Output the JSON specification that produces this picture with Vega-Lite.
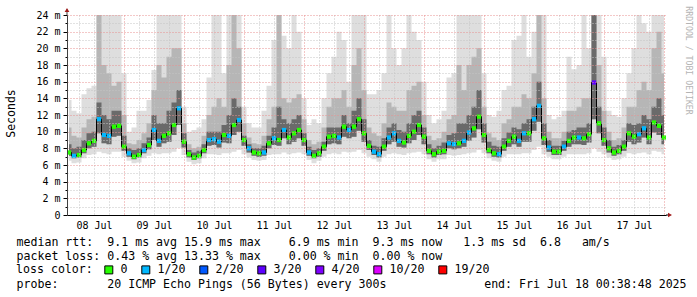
{
"$schema":"https://vega.github.io/schema/vega-lite/v6.json",
"width":599,"height":200,
"autosize":{"type":"none"},
"padding":{"left":67,"top":15,"right":31,"bottom":82},
"background":"white",
"config":{"view":{"stroke":null},"axis":{"labelFont":"DejaVu Sans Mono","titleFont":"DejaVu Sans Mono","labelColor":"#000","titleColor":"#000","titleFontWeight":"normal","domainColor":"#000","tickColor":"#000"}},
"data":{"values":[
{"h":2,"m":7.5,"c":"0","b":6.5,"bd":7.1,"d":8.5,"g":10.5,"l":13.8},
{"h":4,"m":7.1,"c":"1/20","b":6.2,"bd":6.8,"d":8.0,"g":9.5,"l":12.5},
{"h":6,"m":7.2,"c":"0","b":6.3,"bd":6.9,"d":8.2,"g":9.3,"l":12.2},
{"h":8,"m":7.8,"c":"0","b":6.8,"bd":7.4,"d":9.0,"g":10.5,"l":14.5},
{"h":10,"m":8.6,"c":"0","b":7.2,"bd":8.0,"d":9.8,"g":11.5,"l":15.2},
{"h":12,"m":8.9,"c":"0","b":7.3,"bd":8.2,"d":10.0,"g":11.8,"l":15.5},
{"h":14,"m":11.5,"c":"1/20","b":7.6,"bd":9.8,"d":13.5,"g":24,"l":24},
{"h":16,"m":9.6,"c":"1/20","b":7.4,"bd":8.6,"d":12,"g":18,"l":24},
{"h":18,"m":9.5,"c":"1/20","b":7.3,"bd":8.5,"d":11.5,"g":17,"l":24},
{"h":20,"m":10.6,"c":"0","b":7.6,"bd":9.4,"d":12.5,"g":15.5,"l":24},
{"h":22,"m":10.7,"c":"0","b":7.6,"bd":9.5,"d":12.5,"g":16,"l":24},
{"h":24,"m":8.2,"c":"0","b":7.0,"bd":7.7,"d":9.5,"g":12,"l":17},
{"h":26,"m":7.4,"c":"1/20","b":6.5,"bd":7.0,"d":8.0,"g":8.6,"l":10.0},
{"h":28,"m":7.0,"c":"0","b":6.2,"bd":6.7,"d":7.8,"g":8.5,"l":10.5},
{"h":30,"m":7.2,"c":"0","b":6.3,"bd":6.9,"d":8.0,"g":9.0,"l":12.5},
{"h":32,"m":7.8,"c":"1/20","b":6.8,"bd":7.4,"d":8.6,"g":9.8,"l":12.5},
{"h":34,"m":8.4,"c":"0","b":7.1,"bd":7.9,"d":9.3,"g":11,"l":13.8},
{"h":36,"m":10.2,"c":"1/20","b":7.4,"bd":9.0,"d":12,"g":15,"l":17.4},
{"h":38,"m":8.9,"c":"1/20","b":7.3,"bd":8.2,"d":11,"g":18,"l":24},
{"h":40,"m":9.5,"c":"0","b":7.4,"bd":8.6,"d":11,"g":16.5,"l":24},
{"h":42,"m":9.8,"c":"0","b":7.4,"bd":8.8,"d":12.5,"g":19,"l":24},
{"h":44,"m":10.8,"c":"0","b":7.6,"bd":9.6,"d":13.5,"g":20,"l":24},
{"h":46,"m":12.8,"c":"1/20","b":8.0,"bd":10.8,"d":15,"g":20,"l":24},
{"h":48,"m":8.8,"c":"0","b":7.2,"bd":8.1,"d":9.8,"g":11,"l":13},
{"h":50,"m":7.3,"c":"0","b":6.4,"bd":6.9,"d":7.8,"g":8.5,"l":10.0},
{"h":52,"m":6.9,"c":"0","b":6.1,"bd":6.6,"d":7.5,"g":8.0,"l":10.2},
{"h":54,"m":7.1,"c":"0","b":6.2,"bd":6.8,"d":7.7,"g":8.2,"l":10.5},
{"h":56,"m":7.8,"c":"0","b":6.8,"bd":7.4,"d":8.5,"g":9.5,"l":11.5},
{"h":58,"m":9.0,"c":"1/20","b":7.3,"bd":8.3,"d":10,"g":12,"l":16.5},
{"h":60,"m":9.1,"c":"1/20","b":7.3,"bd":8.4,"d":10,"g":13,"l":24},
{"h":62,"m":8.8,"c":"1/20","b":7.2,"bd":8.1,"d":10,"g":14,"l":24},
{"h":64,"m":9.6,"c":"0","b":7.4,"bd":8.7,"d":10.8,"g":13,"l":17},
{"h":66,"m":9.5,"c":"1/20","b":7.4,"bd":8.6,"d":12,"g":18,"l":24},
{"h":68,"m":10.8,"c":"0","b":7.6,"bd":9.6,"d":14,"g":24,"l":24},
{"h":70,"m":11.4,"c":"1/20","b":7.8,"bd":10.0,"d":13,"g":20,"l":24},
{"h":72,"m":9.0,"c":"0","b":7.3,"bd":8.3,"d":9.5,"g":11,"l":13},
{"h":74,"m":8.0,"c":"1/20","b":6.9,"bd":7.5,"d":8.5,"g":9.3,"l":11},
{"h":76,"m":7.5,"c":"0","b":6.6,"bd":7.1,"d":8.0,"g":8.6,"l":10.5},
{"h":78,"m":7.4,"c":"0","b":6.5,"bd":7.0,"d":8.0,"g":8.5,"l":10.5},
{"h":80,"m":7.5,"c":"1/20","b":6.6,"bd":7.1,"d":8.3,"g":9.5,"l":12.5},
{"h":82,"m":8.6,"c":"0","b":7.2,"bd":8.0,"d":9.5,"g":11.5,"l":15.5},
{"h":84,"m":9.2,"c":"1/20","b":7.3,"bd":8.4,"d":10.5,"g":13,"l":21},
{"h":86,"m":9.0,"c":"0","b":7.3,"bd":8.3,"d":13,"g":24,"l":24},
{"h":88,"m":10.2,"c":"1/20","b":7.5,"bd":9.2,"d":11.5,"g":14,"l":21.5},
{"h":90,"m":9.3,"c":"0","b":7.3,"bd":8.5,"d":11,"g":13.5,"l":20},
{"h":92,"m":9.8,"c":"0","b":7.4,"bd":8.8,"d":11.5,"g":14,"l":24},
{"h":94,"m":10.2,"c":"0","b":7.5,"bd":9.2,"d":12,"g":14.5,"l":22},
{"h":96,"m":9.0,"c":"0","b":7.3,"bd":8.3,"d":9.8,"g":11.5,"l":14},
{"h":98,"m":7.5,"c":"1/20","b":6.6,"bd":7.1,"d":8.2,"g":9.0,"l":10.8},
{"h":100,"m":7.1,"c":"0","b":6.2,"bd":6.8,"d":7.8,"g":8.5,"l":11.5},
{"h":102,"m":7.4,"c":"0","b":6.5,"bd":7.0,"d":8.0,"g":8.8,"l":11.0},
{"h":104,"m":8.2,"c":"0","b":7.0,"bd":7.7,"d":8.8,"g":10.5,"l":14},
{"h":106,"m":9.4,"c":"0","b":7.3,"bd":8.5,"d":10.5,"g":13,"l":17},
{"h":108,"m":9.5,"c":"0","b":7.4,"bd":8.6,"d":10.5,"g":14,"l":19},
{"h":110,"m":9.3,"c":"1/20","b":7.3,"bd":8.5,"d":10.5,"g":14,"l":22},
{"h":112,"m":10.6,"c":"0","b":7.6,"bd":9.4,"d":12,"g":15,"l":21},
{"h":114,"m":10.2,"c":"1/20","b":7.5,"bd":9.2,"d":11,"g":13,"l":16},
{"h":116,"m":10.6,"c":"0","b":7.6,"bd":9.4,"d":12.5,"g":18,"l":24},
{"h":118,"m":11.5,"c":"0","b":7.8,"bd":10.1,"d":14,"g":20,"l":24},
{"h":120,"m":9.8,"c":"0","b":7.4,"bd":8.8,"d":11.5,"g":15,"l":24},
{"h":122,"m":8.3,"c":"0","b":7.0,"bd":7.8,"d":9.0,"g":10.5,"l":14.5},
{"h":124,"m":7.6,"c":"1/20","b":6.7,"bd":7.2,"d":8.3,"g":9.8,"l":14.5},
{"h":126,"m":7.3,"c":"1/20","b":6.4,"bd":6.9,"d":8.2,"g":9.5,"l":15},
{"h":128,"m":8.2,"c":"0","b":7.0,"bd":7.7,"d":9.2,"g":11,"l":17},
{"h":130,"m":9.3,"c":"1/20","b":7.3,"bd":8.5,"d":10.5,"g":13.5,"l":24},
{"h":132,"m":9.8,"c":"1/20","b":7.4,"bd":8.8,"d":11,"g":13,"l":20},
{"h":134,"m":8.9,"c":"1/20","b":7.3,"bd":8.2,"d":10.2,"g":12.5,"l":18},
{"h":136,"m":8.7,"c":"0","b":7.2,"bd":8.1,"d":10,"g":12.5,"l":20},
{"h":138,"m":9.5,"c":"0","b":7.4,"bd":8.6,"d":11,"g":15,"l":24},
{"h":140,"m":10.0,"c":"0","b":7.5,"bd":9.0,"d":12,"g":15.5,"l":22},
{"h":142,"m":10.8,"c":"0","b":7.6,"bd":9.6,"d":12.5,"g":16,"l":21},
{"h":144,"m":9.4,"c":"0","b":7.3,"bd":8.5,"d":10.5,"g":12,"l":16},
{"h":146,"m":7.7,"c":"0","b":6.7,"bd":7.3,"d":8.5,"g":9.5,"l":12},
{"h":148,"m":7.3,"c":"0","b":6.4,"bd":6.9,"d":8.0,"g":9.0,"l":11},
{"h":150,"m":7.6,"c":"0","b":6.7,"bd":7.2,"d":8.3,"g":9.2,"l":11.5},
{"h":152,"m":7.7,"c":"0","b":6.7,"bd":7.3,"d":8.7,"g":10.0,"l":12.5},
{"h":154,"m":8.6,"c":"1/20","b":7.2,"bd":8.0,"d":9.6,"g":11.5,"l":16.5},
{"h":156,"m":8.5,"c":"1/20","b":7.1,"bd":7.9,"d":9.8,"g":12,"l":17},
{"h":158,"m":8.6,"c":"0","b":7.2,"bd":8.0,"d":11,"g":18,"l":24},
{"h":160,"m":8.9,"c":"1/20","b":7.3,"bd":8.2,"d":11,"g":15,"l":24},
{"h":162,"m":9.9,"c":"1/20","b":7.4,"bd":8.9,"d":12,"g":18,"l":24},
{"h":164,"m":10.4,"c":"0","b":7.5,"bd":9.3,"d":13,"g":19,"l":24},
{"h":166,"m":11.8,"c":"0","b":7.8,"bd":10.3,"d":15,"g":20,"l":24},
{"h":168,"m":9.6,"c":"0","b":7.4,"bd":8.7,"d":11,"g":13,"l":17},
{"h":170,"m":7.8,"c":"0","b":6.8,"bd":7.4,"d":8.8,"g":9.8,"l":12},
{"h":172,"m":7.4,"c":"0","b":6.5,"bd":7.0,"d":8.3,"g":9.3,"l":11.8},
{"h":174,"m":7.3,"c":"1/20","b":6.4,"bd":6.9,"d":8.2,"g":9.0,"l":12.5},
{"h":176,"m":8.2,"c":"0","b":7.0,"bd":7.7,"d":9.2,"g":11,"l":15},
{"h":178,"m":8.9,"c":"0","b":7.3,"bd":8.2,"d":9.9,"g":11.5,"l":15.5},
{"h":180,"m":9.4,"c":"0","b":7.3,"bd":8.5,"d":10.5,"g":13,"l":21},
{"h":182,"m":8.9,"c":"1/20","b":7.3,"bd":8.2,"d":10.3,"g":13,"l":21.5},
{"h":184,"m":9.8,"c":"1/20","b":7.4,"bd":8.8,"d":11,"g":14.5,"l":24},
{"h":186,"m":9.8,"c":"0","b":7.4,"bd":8.8,"d":11.5,"g":14,"l":19},
{"h":188,"m":11.5,"c":"1/20","b":7.8,"bd":10.1,"d":13,"g":17,"l":22},
{"h":190,"m":13.1,"c":"1/20","b":8.2,"bd":11.2,"d":16,"g":24,"l":24},
{"h":192,"m":9.2,"c":"0","b":7.3,"bd":8.4,"d":11,"g":14,"l":24},
{"h":194,"m":8.1,"c":"1/20","b":7.0,"bd":7.6,"d":9.0,"g":10,"l":12},
{"h":196,"m":7.6,"c":"0","b":6.7,"bd":7.2,"d":8.3,"g":9.2,"l":11.5},
{"h":198,"m":7.6,"c":"0","b":6.7,"bd":7.2,"d":8.3,"g":9.2,"l":11.8},
{"h":200,"m":8.2,"c":"1/20","b":7.0,"bd":7.7,"d":8.9,"g":10,"l":12.5},
{"h":202,"m":8.9,"c":"0","b":7.3,"bd":8.2,"d":10,"g":12.5,"l":19},
{"h":204,"m":9.3,"c":"0","b":7.3,"bd":8.5,"d":10.2,"g":12.5,"l":17.5},
{"h":206,"m":9.3,"c":"1/20","b":7.3,"bd":8.5,"d":10.5,"g":13,"l":18},
{"h":208,"m":9.2,"c":"0","b":7.3,"bd":8.4,"d":10.5,"g":14,"l":24},
{"h":210,"m":9.7,"c":"0","b":7.4,"bd":8.7,"d":11,"g":14,"l":20},
{"h":212,"m":15.9,"c":"3/20","b":8.0,"bd":11.5,"d":24,"g":24,"l":24},
{"h":214,"m":11.0,"c":"0","b":7.6,"bd":9.8,"d":13,"g":18,"l":24},
{"h":216,"m":9.0,"c":"0","b":7.3,"bd":8.3,"d":10.5,"g":12.5,"l":19},
{"h":218,"m":8.0,"c":"0","b":6.9,"bd":7.5,"d":9.0,"g":10,"l":12.5},
{"h":220,"m":7.5,"c":"0","b":6.6,"bd":7.1,"d":8.2,"g":9.0,"l":12},
{"h":222,"m":7.7,"c":"0","b":6.7,"bd":7.3,"d":8.4,"g":9.2,"l":11.8},
{"h":224,"m":8.2,"c":"0","b":7.0,"bd":7.7,"d":9.0,"g":10.5,"l":14},
{"h":226,"m":9.8,"c":"0","b":7.4,"bd":8.8,"d":11,"g":13,"l":17},
{"h":228,"m":9.4,"c":"0","b":7.3,"bd":8.5,"d":10.8,"g":13,"l":20},
{"h":230,"m":9.7,"c":"1/20","b":7.4,"bd":8.7,"d":11,"g":15,"l":24},
{"h":232,"m":10.4,"c":"1/20","b":7.5,"bd":9.3,"d":12,"g":16,"l":23},
{"h":234,"m":9.3,"c":"0","b":7.3,"bd":8.5,"d":11.5,"g":15,"l":22},
{"h":236,"m":11.1,"c":"0","b":7.7,"bd":9.9,"d":13,"g":20,"l":24},
{"h":238,"m":10.7,"c":"0","b":7.6,"bd":9.6,"d":14,"g":22,"l":24},
{"h":240,"m":9.3,"c":"0","b":7.3,"bd":8.5,"d":12,"g":17,"l":24}
]},
"resolve":{"axis":{"x":"independent","y":"independent"}},
"layer":[
{"mark":{"type":"area","interpolate":"step","color":"#dedede","clip":true},
 "encoding":{
  "x":{"field":"h","type":"quantitative","scale":{"domain":[1.2,240.8],"nice":false,"zero":false},
   "axis":{"orient":"bottom","values":[6,12,18,30,36,42,54,60,66,78,84,90,102,108,114,126,132,138,150,156,162,174,180,186,198,204,210,222,228,234],"grid":true,"gridColor":"#c4c4c4","gridDash":[1,2],"ticks":false,"labels":false,"domain":false,
    "title":"probe:\u00a0\u00a0\u00a0\u00a0\u00a0\u00a0\u00a020\u00a0ICMP\u00a0Echo\u00a0Pings\u00a0(56\u00a0Bytes)\u00a0every\u00a0300s\u00a0\u00a0\u00a0\u00a0\u00a0\u00a0\u00a0\u00a0\u00a0\u00a0\u00a0\u00a0\u00a0\u00a0end:\u00a0Fri\u00a0Jul\u00a018\u00a000:38:48\u00a02025",
    "titleFontSize":11.6,"titleX":-51,"titleY":72,"titleAlign":"left","titleBaseline":"alphabetic","titleAngle":0,"zindex":1}},
  "y":{"field":"b","type":"quantitative","scale":{"domain":[0,24],"nice":false,"zero":true},
   "axis":{"orient":"left","values":[1,3,5,7,9,11,13,15,17,19,21,23],"grid":true,"gridColor":"#c4c4c4","gridDash":[1,2],"tickSize":2,"labels":false,"domain":false,"title":null,"zindex":1}},
  "y2":{"field":"l"}}},
{"mark":{"type":"area","interpolate":"step","color":"#b6b6b6","clip":true},
 "encoding":{
  "x":{"field":"h","type":"quantitative",
   "axis":{"orient":"bottom","values":[24,48,72,96,120,144,168,192,216,240],"grid":true,"gridColor":"#e89090","gridDash":[1,2],"ticks":false,"labels":false,"domain":false,"title":null,"zindex":1}},
  "y":{"field":"bd","type":"quantitative",
   "axis":{"orient":"left","values":[0,2,4,6,8,10,12,14,16,18,20,22,24],"grid":true,"gridColor":"#e89090","gridDash":[1,2],"tickSize":4,"labelFontSize":10,"labelPadding":3,"labelExpr":"datum.value == 0 ? '0\u00a0\u00a0' : datum.value + ' m'","domain":true,"domainColor":"#404040","title":"Seconds","titleFontSize":11.5,"titleAngle":270,"titleX":-56,"titleY":98,"titleAlign":"center","titleBaseline":"middle","zindex":1}},
  "y2":{"field":"g"}}},
{"mark":{"type":"area","interpolate":"step","color":"#6a6a6a","clip":true},
 "encoding":{
  "x":{"field":"h","type":"quantitative",
   "axis":{"orient":"bottom","values":[12,36,60,84,108,132,156,180,204,228],"grid":false,"ticks":false,"labelFontSize":10,"labelPadding":5,"labelExpr":"(floor(datum.value/24)+8 < 10 ? '0' : '') + (floor(datum.value/24)+8) + ' Jul'","domain":true,"domainColor":"#000",
    "title":["median\u00a0rtt:\u00a0\u00a09.1\u00a0ms\u00a0avg\u00a015.9\u00a0ms\u00a0max\u00a0\u00a0\u00a0\u00a06.9\u00a0ms\u00a0min\u00a0\u00a09.3\u00a0ms\u00a0now\u00a0\u00a0\u00a01.3\u00a0ms\u00a0sd\u00a0\u00a06.8\u00a0\u00a0\u00a0am/s","packet\u00a0loss:\u00a00.43\u00a0%\u00a0avg\u00a013.33\u00a0%\u00a0max\u00a0\u00a0\u00a0\u00a00.00\u00a0%\u00a0min\u00a0\u00a00.00\u00a0%\u00a0now"],
    "titleFontSize":11.6,"titleLineHeight":14,"titleX":-51,"titleY":30,"titleAlign":"left","titleBaseline":"alphabetic","titleAngle":0,"zindex":1}},
  "y":{"field":"bd","type":"quantitative",
   "axis":{"orient":"right","grid":false,"ticks":false,"labels":false,"domain":false,"title":"RRDTOOL / TOBI OETIKER","titleFontSize":8.2,"titleColor":"#b4b4b4","titleAngle":90,"titleX":21.5,"titleY":45,"titleAlign":"center","titleBaseline":"middle"}},
  "y2":{"field":"d"}}},
{"mark":{"type":"line","interpolate":"step","color":"#000","strokeWidth":1,"clip":true},
 "encoding":{"x":{"field":"h","type":"quantitative","axis":null},"y":{"field":"m","type":"quantitative","axis":null}}},
{"mark":{"type":"point","shape":"square","filled":true,"size":18,"opacity":1,"clip":true},
 "encoding":{"x":{"field":"h","type":"quantitative","axis":null},"y":{"field":"m","type":"quantitative","axis":null},
  "color":{"field":"c","type":"nominal","scale":{"domain":["0","1/20","2/20","3/20","4/20","10/20","19/20"],"range":["#26ff00","#00b8ff","#0059ff","#5e00ff","#7e00ff","#dd00ff","#ff0000"]},
   "legend":{"orient":"none","legendX":-51,"legendY":249,"direction":"horizontal","title":"loss color:","titleOrient":"left","titleFont":"DejaVu Sans Mono","titleFontSize":11.6,"titleFontWeight":"normal","titleColor":"#000","titlePadding":10,"titleBaseline":"middle","labelFont":"DejaVu Sans Mono","labelFontSize":11.6,"labelColor":"#000","labelOffset":6,"columnPadding":11,"symbolType":"square","symbolSize":64,"symbolStrokeColor":"#000","symbolStrokeWidth":1,"symbolOpacity":1,"padding":0}}}},
{"data":{"values":[{}]},"mark":{"type":"rule","color":"#404040","clip":false},
 "encoding":{"x":{"datum":1.2,"type":"quantitative","axis":null},"y":{"datum":24,"type":"quantitative","axis":null},"y2":{"datum":24.7}}},
{"data":{"values":[{}]},"mark":{"type":"rule","color":"#000","clip":false},
 "encoding":{"x":{"datum":240.8,"type":"quantitative","axis":null},"x2":{"datum":242.2},"y":{"datum":0,"type":"quantitative","axis":null}}},
{"data":{"values":[{}]},"mark":{"type":"point","shape":"triangle-up","filled":true,"size":22,"color":"#a01c1c","opacity":1,"clip":false},
 "encoding":{"x":{"datum":1.2,"type":"quantitative","axis":null},"y":{"datum":24.6,"type":"quantitative","axis":null}}},
{"data":{"values":[{}]},"mark":{"type":"point","shape":"triangle-right","filled":true,"size":22,"color":"#a01c1c","opacity":1,"clip":false},
 "encoding":{"x":{"datum":242.4,"type":"quantitative","axis":null},"y":{"datum":0,"type":"quantitative","axis":null}}}
]
}
